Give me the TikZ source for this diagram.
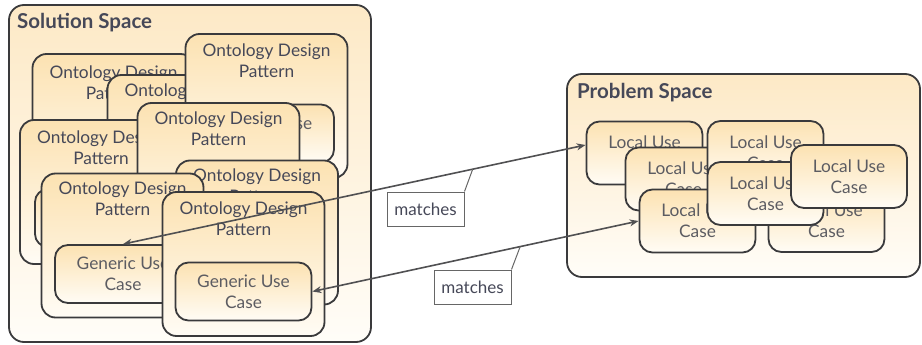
\documentclass[tikz,border=0pt]{standalone}
\usepackage{fontspec}
\setmainfont{Lato}
\usetikzlibrary{arrows.meta,calc}
\definecolor{spacetop}{RGB}{253,233,198}
\definecolor{spacebot}{RGB}{255,253,248}
\definecolor{boxtop}{RGB}{252,226,178}
\definecolor{boxbot}{RGB}{255,252,245}
\definecolor{edge}{RGB}{58,58,60}
\definecolor{txt}{RGB}{70,72,88}
\definecolor{txtlight}{RGB}{92,92,98}
\definecolor{arr}{RGB}{80,80,82}
\tikzset{
  space/.style={draw=edge, line width=1.8pt, rounded corners=15pt, top color=spacetop, bottom color=spacebot, shading angle=0},
  spacetitle/.style={font=\bfseries\fontsize{20.5}{24}\selectfont, text=txt, anchor=west, inner sep=0pt},
  odp/.style={draw=edge, line width=1.8pt, rounded corners=14pt, top color=boxtop, bottom color=boxbot, minimum width=162pt, minimum height=144pt, inner sep=0pt},
  odptext/.style={font=\fontsize{17.3}{21}\selectfont, text=txt, align=center, anchor=north, inner sep=0pt},
  guc/.style={draw=edge, line width=1.8pt, rounded corners=13pt, top color=boxtop, bottom color=boxbot, minimum width=136pt, minimum height=58pt, inner sep=0pt, font=\fontsize{17.3}{21}\selectfont, text=txtlight, align=center},
  luc/.style={draw=edge, line width=1.8pt, rounded corners=13pt, top color=boxtop, bottom color=boxbot, minimum width=116pt, minimum height=63pt, inner sep=0pt, font=\fontsize{17.3}{21}\selectfont, text=txtlight, align=center},
  match/.style={draw=arr, line width=1.6pt, {Stealth[length=9pt,width=7pt]}-{Stealth[length=9pt,width=7pt]}},
  callout/.style={draw=gray!80!black, line width=1pt},
  lbl/.style={draw=gray!80!black, line width=1pt, fill=white, font=\fontsize{17}{20}\selectfont, text=txt, minimum width=77pt, minimum height=34pt, inner sep=0pt}
}
\begin{document}
\begin{tikzpicture}[x=1pt,y=-1pt]
\useasboundingbox (0,0) rectangle (922,345);
% Solution space
\node[space, minimum width=362pt, minimum height=337pt] (S) at (190,173.5) {};
\node[spacetitle] (St) at (17,23) {Solution Space};
% pattern boxes, back to front
\node[odp] (A) at (113.5,126) {};
\node[odptext] (At) at ([yshift=-12pt]A.north) {Ontology Design\\Pattern};
\node[odp] (B) at (188.5,147) {};
\node[odptext] (Bt) at ([yshift=-9pt]B.north) {Ontology Design\\Pattern};
\node[odp] (C) at (266.5,106) {};
\node[odptext] (Ct) at ([yshift=-10pt]C.north) {Ontology Design\\Pattern};
\node[guc] (Cg) at (266,133.5) {Generic Use\\Case};
\node[odp] (E) at (101,192) {};
\node[odptext] (Et) at ([yshift=-11pt]E.north) {Ontology Design\\Pattern};
\node[guc] (Eg) at (103,218) {Generic Use\\Case};
\node[odp] (D) at (218.5,175) {};
\node[odptext] (Dt) at ([yshift=-9pt]D.north) {Ontology Design\\Pattern};
\node[odp] (F) at (257,232.5) {};
\node[odptext] (Ft) at ([yshift=-9pt]F.north) {Ontology Design\\Pattern};
\node[odp] (G) at (122.5,245.5) {};
\node[odptext] (Gt) at ([yshift=-9pt]G.north) {Ontology Design\\Pattern};
\node[guc] (Gg) at (123,274) {Generic Use\\Case};
\node[odp] (H) at (243.5,264) {};
\node[odptext] (Ht) at ([yshift=-10pt]H.north) {Ontology Design\\Pattern};
\node[guc] (Hg) at (243.5,291.5) {Generic Use\\Case};
% Problem space
\node[space, minimum width=353pt, minimum height=203pt] (P) at (743.5,175.5) {};
\node[spacetitle] (Pt) at (577,93) {Problem Space};
\node[luc] (L1) at (644.5,153) {Local Use\\Case};
\node[luc] (L3) at (683.5,179) {Local Use\\Case};
\node[luc] (L2) at (765.5,152.5) {Local Use\\Case};
\node[luc] (L4) at (697.5,221) {Local Use\\Case};
\node[luc] (L5) at (826.5,220.5) {Local Use\\Case};
\node[luc] (L6) at (765.5,193.5) {Local Use\\Case};
\node[luc] (L7) at (849,176.5) {Local Use\\Case};
% matches connectors
\draw[match] ([yshift=8pt]L1.west) -- coordinate[pos=0.244] (m1) (Gg.north);
\draw[match] (L4.west) -- coordinate[pos=0.363] (m2) (Hg.east);
\node[lbl] (M1) at (425.5,209) {matches};
\node[lbl] (M2) at (472.5,287) {matches};
\draw[callout] (M1.north east) -- (m1);
\draw[callout] (M2.north east) -- (m2);
\end{tikzpicture}
\end{document}
